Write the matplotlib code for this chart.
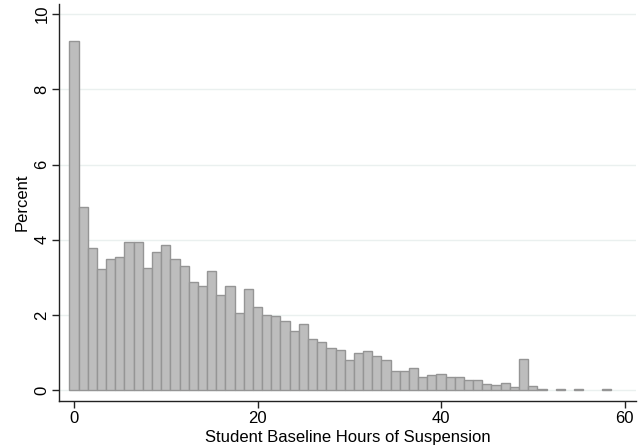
import matplotlib
matplotlib.use("Agg")
import matplotlib.pyplot as plt
import numpy as np

plt.rcParams['font.family'] = ['Liberation Sans', 'DejaVu Sans']

hours = list(range(0, 59))
percent = [9.29, 4.88, 3.77, 3.22, 3.49, 3.54, 3.95, 3.93, 3.26, 3.67,
           3.87, 3.50, 3.30, 2.88, 2.77, 3.16, 2.53, 2.78, 2.04, 2.69,
           2.20, 2.00, 1.98, 1.84, 1.56, 1.77, 1.35, 1.29, 1.13, 1.08,
           0.80, 1.00, 1.04, 0.92, 0.79, 0.50, 0.50, 0.58, 0.34, 0.39,
           0.42, 0.36, 0.36, 0.26, 0.28, 0.16, 0.14, 0.19, 0.08, 0.82,
           0.12, 0.02, 0.0, 0.02, 0.0, 0.03, 0.0, 0.0, 0.02]
xticks = [0, 20, 40, 60]
yticks = [0, 2, 4, 6, 8, 10]
xlabel = "Student Baseline Hours of Suspension"
ylabel = "Percent"

fig = plt.figure(figsize=(6.44, 4.47), dpi=100)
ax = fig.add_axes([0.0916, 0.1029, 0.896, 0.888])

ax.set_yticks(yticks)
ax.yaxis.grid(True, color='#eaf0ef', linewidth=1.0, zorder=0)
ax.set_axisbelow(True)

xs = [h for h, p in zip(hours, percent) if p > 0]
ps = [p for p in percent if p > 0]
ax.bar(xs, ps, width=1.0, align='center', color='#bdbdbd',
       edgecolor='#959595', linewidth=1.0, zorder=2)

ax.set_xlim(-1.635, 61.25)
ax.set_ylim(-0.29, 10.27)
ax.set_xticks(xticks)
ax.set_xticklabels([str(v) for v in xticks], fontsize=12)
ax.set_yticklabels([str(v) for v in yticks], fontsize=12, rotation=90, va='center')
ax.tick_params(axis='both', direction='out', length=5, width=1, color='#222222', pad=2)

for s in ['top', 'right']:
    ax.spines[s].set_visible(False)
for s in ['left', 'bottom']:
    ax.spines[s].set_color('#222222')
    ax.spines[s].set_linewidth(1.0)

ax.set_xlabel(xlabel, fontsize=12, labelpad=3)
ax.set_ylabel(ylabel, fontsize=12, labelpad=3)

fig.savefig("out.png", dpi=100, facecolor='white')
